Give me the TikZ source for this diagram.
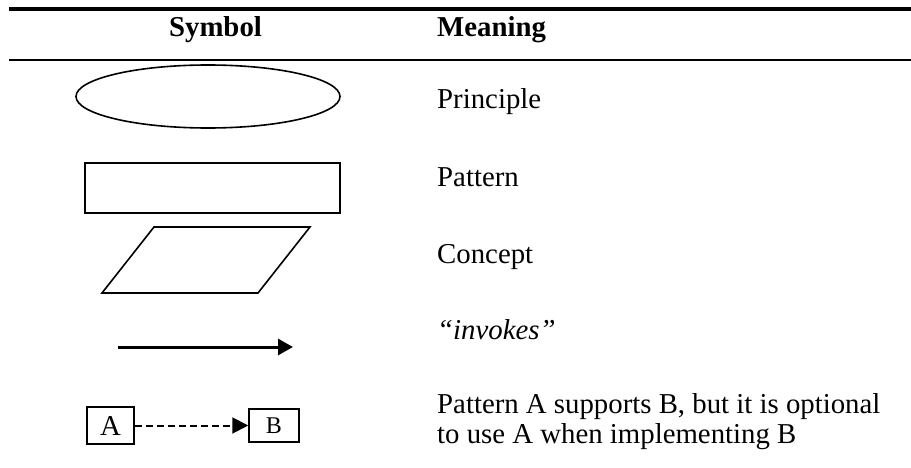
\documentclass[tikz,border=0pt]{standalone}
\usepackage{fontspec}
\setmainfont{Liberation Serif}
\usetikzlibrary{shapes.geometric,arrows.meta}

\tikzset{
  body/.style={anchor=base west, inner sep=0pt, font=\fontsize{28.8}{30}\selectfont},
  head/.style={anchor=base, inner sep=0pt, font=\fontsize{28.8}{30}\selectfont\bfseries},
  symshape/.style={draw, line width=1.6pt, inner sep=0pt},
  rulethick/.style={line width=4pt},
  rulethin/.style={line width=2pt},
  smallbox/.style={draw, line width=1.5pt, inner sep=0pt},
}

\begin{document}
\begin{tikzpicture}[x=1pt, y=-1pt]
  \useasboundingbox (0,0) rectangle (911,468);

  % table rules
  \coordinate (t1) at (9,9);   \coordinate (t2) at (911,9);
  \coordinate (h1) at (9,60);  \coordinate (h2) at (911,60);
  \draw[rulethick] (t1) -- (t2);
  \draw[rulethin]  (h1) -- (h2);

  % header
  \node[head] (hsym) at (215.5,37) {Symbol};
  \node[head, anchor=base west] (hmean) at (437,37) {Meaning};

  % symbols
  \node[symshape, ellipse, minimum width=264pt, minimum height=63pt] (princ) at (208,96.5) {};
  \node[symshape, rectangle, minimum width=255pt, minimum height=50pt] (patt) at (212.5,188) {};
  \draw[line width=1.6pt, line join=miter] (154,227) -- (310,227) -- (258,293) -- (102,293) -- cycle;

  \coordinate (inv1) at (118,347);
  \coordinate (inv2) at (293,347);
  \draw[line width=3pt, -{Triangle[length=15pt, width=16pt]}] (inv1) -- (inv2);

  \node[smallbox, minimum width=47pt, minimum height=37pt, font=\fontsize{28.8}{30}\selectfont] (A) at (110.5,425.5) {A};
  \node[smallbox, minimum width=50pt, minimum height=33pt, font=\fontsize{24}{26}\selectfont] (B) at (274,425.5) {B};
  \draw[line width=2pt, dash pattern=on 7pt off 4pt, -{Triangle[length=16pt, width=16pt]}] (A) -- (B);

  % meanings
  \node[body] (mprinc) at (437,109) {Principle};
  \node[body] (mpatt)  at (437,187) {Pattern};
  \node[body] (mconc)  at (437,263) {Concept};
  \node[body] (minv)   at (437,339) {\itshape “invokes”};
  % the base anchor of a two-line node sits on its last line
  \node[body, align=left] (mopt) at (437,443) {Pattern A supports B, but it is optional\\to use A when implementing B};
\end{tikzpicture}
\end{document}
